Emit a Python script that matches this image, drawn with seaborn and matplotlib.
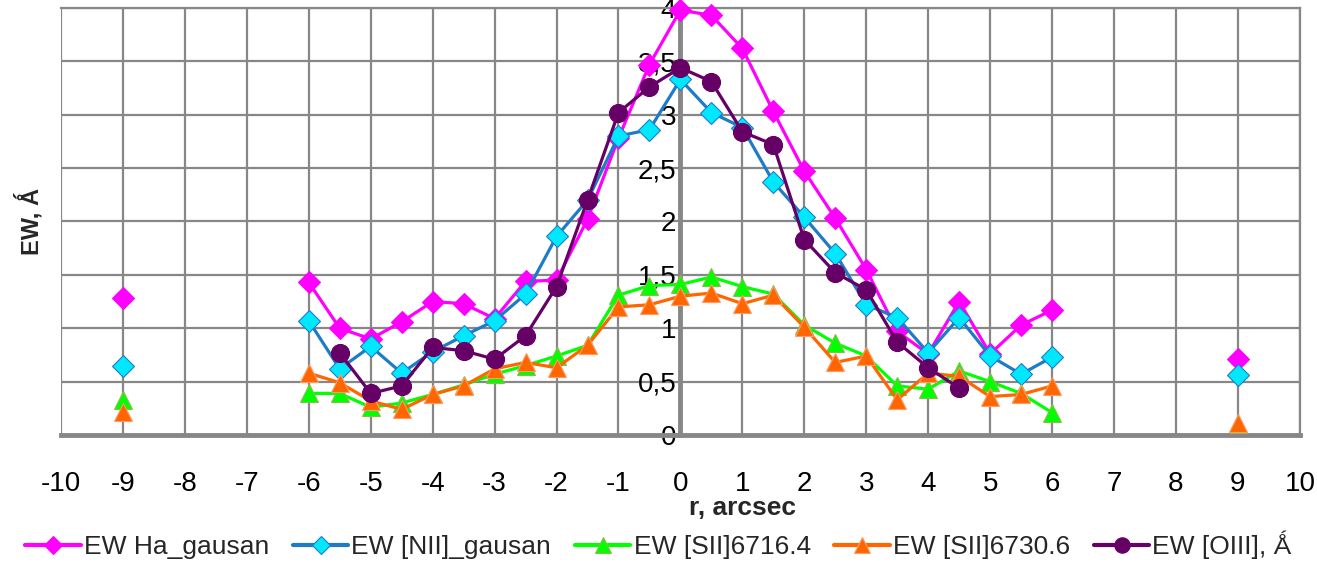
import numpy as np
import pandas as pd
import matplotlib
matplotlib.use("Agg")
import matplotlib.pyplot as plt
from matplotlib.lines import Line2D
from matplotlib.ticker import FuncFormatter
import seaborn as sns

# ---- data ----
x_main = [-6, -5.5, -5, -4.5, -4, -3.5, -3, -2.5, -2, -1.5, -1, -0.5, 0,
          0.5, 1, 1.5, 2, 2.5, 3, 3.5, 4, 4.5, 5, 5.5, 6]
x_far = [-9, 9]

ha_main = [1.43, 1.00, 0.90, 1.06, 1.25, 1.23, 1.09, 1.44, 1.45, 2.02, 2.78, 3.47, 3.98,
           3.93, 3.62, 3.03, 2.47, 2.03, 1.55, 0.97, 0.76, 1.25, 0.76, 1.03, 1.17]
ha_far = [1.28, 0.71]

nii_main = [1.07, 0.62, 0.83, 0.58, 0.78, 0.93, 1.07, 1.32, 1.86, 2.20, 2.80, 2.86, 3.33,
            3.02, 2.88, 2.37, 2.04, 1.70, 1.22, 1.10, 0.77, 1.10, 0.74, 0.57, 0.73]
nii_far = [0.65, 0.56]

sii1_main = [0.39, 0.39, 0.26, 0.30, 0.38, 0.47, 0.57, 0.65, 0.74, 0.84, 1.31, 1.40, 1.41,
             1.48, 1.39, 1.32, 1.03, 0.86, 0.74, 0.46, 0.43, 0.60, 0.50, 0.39, 0.21]
sii1_far = [0.33, 0.10]

sii2_main = [0.58, 0.49, 0.32, 0.24, 0.38, 0.46, 0.62, 0.68, 0.63, 0.84, 1.20, 1.22, 1.30,
             1.33, 1.23, 1.31, 1.01, 0.68, 0.74, 0.33, 0.58, 0.55, 0.36, 0.38, 0.46]
sii2_far = [0.22, 0.11]

x_oiii = [-5.5, -5, -4.5, -4, -3.5, -3, -2.5, -2, -1.5, -1, -0.5, 0,
          0.5, 1, 1.5, 2, 2.5, 3, 3.5, 4, 4.5]
oiii = [0.77, 0.39, 0.46, 0.82, 0.79, 0.71, 0.93, 1.39, 2.20, 3.02, 3.26, 3.44,
        3.31, 2.84, 2.72, 1.83, 1.52, 1.36, 0.87, 0.63, 0.44]

labels = ["EW Ha_gausan", "EW [NII]_gausan", "EW [SII]6716.4", "EW [SII]6730.6",
          "EW [OIII], \u01FA"]
x_ticks = list(range(-10, 11))
y_ticks = [0, 0.5, 1, 1.5, 2, 2.5, 3, 3.5, 4]


def make_df(xm, ym, xf=None, yf=None):
    rows = []
    for xv, yv in zip(xm, ym):
        rows.append((xv, yv, 1))
    if xf is not None:
        for xv, yv in zip(xf, yf):
            rows.append((xv, yv, 0 if xv < 0 else 2))
    return pd.DataFrame(rows, columns=["x", "y", "seg"])


series = [
    (make_df(x_main, ha_main, x_far, ha_far),
     dict(color="#FF00FF", marker="D", markersize=11, markerfacecolor="#FF00FF",
          markeredgecolor="#FF00FF", markeredgewidth=0.8)),
    (make_df(x_main, nii_main, x_far, nii_far),
     dict(color="#1E7CC6", marker="D", markersize=11, markerfacecolor="#00E8FF",
          markeredgecolor="#1E7CC6", markeredgewidth=0.8)),
    (make_df(x_main, sii1_main, x_far, sii1_far),
     dict(color="#00FF00", marker="^", markersize=13, markerfacecolor="#00FF00",
          markeredgecolor="#8DBB4A", markeredgewidth=0.8)),
    (make_df(x_main, sii2_main, x_far, sii2_far),
     dict(color="#FF6600", marker="^", markersize=13, markerfacecolor="#FF6600",
          markeredgecolor="#FF9A66", markeredgewidth=0.8)),
    (make_df(x_oiii, oiii),
     dict(color="#660066", marker="o", markersize=13, markerfacecolor="#660066",
          markeredgecolor="#660066", markeredgewidth=0.8)),
]

sns.set_theme(style="white")
plt.rcParams["font.family"] = ["Liberation Sans", "DejaVu Sans"]
plt.rcParams["axes.unicode_minus"] = False

fig, ax = plt.subplots(figsize=(13.17, 5.65), dpi=100)
fig.subplots_adjust(left=0.0463, right=0.987, bottom=0.23, top=0.986)

grid_c = "#878787"
handles = []
for i, (df, st) in enumerate(series):
    sns.lineplot(data=df, x="x", y="y", units="seg", estimator=None, ax=ax,
                 linewidth=2.3, legend=False, clip_on=False, zorder=3 + i,
                 sort=True, **st)
    handles.append(Line2D([0], [0], linewidth=3.0, **st))

ax.set_xlim(-10, 10)
ax.set_ylim(0, 4)
ax.set_xticks(x_ticks)
ax.set_yticks(y_ticks)
ax.yaxis.set_major_formatter(FuncFormatter(
    lambda v, p: ("%g" % v).replace(".", ",")))
ax.grid(True, color=grid_c, linewidth=1.6)
ax.set_axisbelow(True)

ax.spines["left"].set_position(("data", 0))
for name, sp in ax.spines.items():
    sp.set_color(grid_c)
    sp.set_linewidth(1.6)
ax.spines["left"].set_linewidth(3.5)
ax.spines["bottom"].set_linewidth(3.5)
ax.spines["left"].set_zorder(1.5)
ax.spines["bottom"].set_zorder(1.5)

ax.tick_params(axis="x", length=0, pad=26, labelsize=20, colors="black")
ax.tick_params(axis="y", length=0, pad=3, labelsize=20, colors="black")

ax.set_xlabel("r, arcsec", fontsize=19, fontweight="bold")
ax.xaxis.set_label_coords(0.55, -0.143)
ax.set_ylabel("EW, \u01FA", fontsize=17, fontweight="bold")
ax.yaxis.set_label_coords(-0.014, 0.5)

fig.legend(handles, labels, loc="center", bbox_to_anchor=(0.5, 0.035), ncol=5,
           frameon=False, fontsize=19, handlelength=2.1, handletextpad=0.12,
           columnspacing=0.9, markerscale=0.85, borderaxespad=0, borderpad=0)

fig.savefig("out.png", dpi=100)
